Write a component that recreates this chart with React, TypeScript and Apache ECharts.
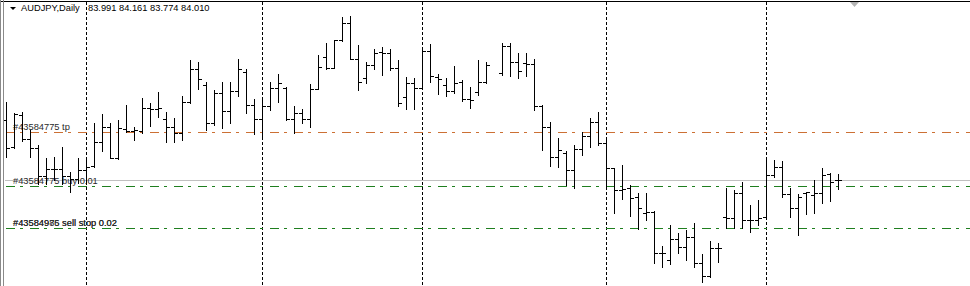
import React, { useEffect, useRef } from "react";
import * as echarts from "echarts";

const symbolName = "AUDJPY";
const timeframeName = "Daily";

// Daily OHLC bars (index 61 has no bar)
const opens: (number | null)[] = [
  85.5, 84.83, 85.63, 85.03, 84.8, 84.1, 84.28, 84.27, 84.1, 84.02,
  84.25, 84.35, 84.96, 85.33, 84.55, 85.27, 85.23, 85.23, 85.79, 85.77,
  85.52, 85.32, 85.17, 85.96, 86.77, 86.38, 85.42, 86.17, 85.73, 86.23,
  86.7, 85.87, 85.52, 85.85, 86.31, 86.31, 85.52, 85.67, 85.52, 86.27,
  87.07, 86.8, 87.49, 87.93, 87.03, 86.56, 86.88, 87.19, 87.18, 86.79,
  86.07, 86.43, 86.29, 87.23, 86.58, 86.38, 86.23, 86.46, 86.02, 86.21,
  86.46, null, 86.68, 87.36, 86.96, 86.92, 86.9, 85.85, 85.33, 84.58,
  84.68, 84.25, 84.77, 85.11, 85.46, 84.93, 84.29, 83.75, 83.79, 83.57,
  83.18, 83.19, 82.18, 82.0, 82.53, 82.33, 82.58, 81.93, 81.6, 82.29,
  83.07, 83.06, 83.68, 83.0, 83.0, 83.07, 84.13, 84.33, 83.65, 83.29,
  83.68, 83.63, 83.67, 84.15, 83.991,
];
const highs: (number | null)[] = [
  85.96, 85.68, 85.71, 85.25, 84.88, 84.55, 84.58, 84.83, 84.21, 84.54,
  84.58, 85.43, 85.65, 85.42, 85.5, 85.88, 85.33, 86.04, 85.93, 86.21,
  85.71, 85.54, 86.1, 87.0, 86.96, 86.46, 86.25, 86.46, 86.46, 87.02,
  86.77, 86.02, 86.07, 86.46, 86.65, 86.32, 85.85, 85.77, 86.4, 87.13,
  87.42, 87.5, 88.08, 88.1, 87.38, 86.96, 87.27, 87.32, 87.27, 87.0,
  86.57, 86.54, 87.25, 87.4, 86.65, 86.54, 86.85, 86.5, 86.33, 87.0,
  86.96, null, 87.42, 87.42, 87.17, 87.18, 87.02, 85.88, 85.46, 85.04,
  84.73, 84.88, 85.21, 85.54, 85.71, 85.0, 84.3, 84.38, 83.88, 83.67,
  83.68, 83.23, 82.35, 82.88, 82.67, 82.75, 82.92, 82.15, 82.48, 82.43,
  83.79, 83.75, 83.96, 83.38, 83.5, 84.5, 84.5, 84.48, 83.79, 83.65,
  83.71, 84.0, 84.29, 84.18, 84.161,
];
const lows: (number | null)[] = [
  84.58, 84.8, 84.98, 84.58, 83.9, 83.9, 84.0, 83.9, 83.71, 83.92,
  83.9, 84.33, 84.73, 84.54, 84.53, 85.21, 85.0, 85.17, 85.35, 85.58,
  84.96, 84.96, 85.0, 85.92, 86.27, 85.25, 85.38, 85.29, 85.43, 86.1,
  85.67, 85.15, 85.04, 85.75, 85.96, 85.5, 85.18, 85.42, 85.32, 86.27,
  86.77, 86.79, 87.48, 87.02, 86.25, 86.42, 86.77, 86.63, 86.75, 85.85,
  85.78, 85.78, 86.27, 86.46, 86.15, 86.1, 86.17, 85.98, 85.79, 86.13,
  86.42, null, 86.63, 86.6, 86.54, 86.6, 85.75, 84.75, 84.35, 84.32,
  83.88, 83.79, 84.63, 84.83, 84.88, 83.83, 83.18, 83.53, 83.1, 82.77,
  83.0, 81.93, 81.83, 81.9, 82.18, 82.0, 81.83, 81.46, 81.57, 81.96,
  82.79, 82.79, 82.79, 82.71, 82.88, 83.05, 84.07, 83.57, 83.08, 82.63,
  83.15, 83.17, 83.42, 83.48, 83.774,
];
const closes: (number | null)[] = [
  84.8, 85.65, 85.03, 84.8, 84.1, 84.28, 84.27, 84.1, 84.02, 84.25,
  84.33, 84.96, 85.33, 84.55, 85.3, 85.23, 85.25, 85.79, 85.77, 85.79,
  85.32, 85.17, 85.96, 86.77, 86.52, 85.43, 86.17, 85.73, 86.23, 86.77,
  85.87, 85.52, 85.85, 86.31, 86.42, 85.52, 85.67, 85.52, 86.27, 86.82,
  86.8, 87.49, 87.93, 87.03, 86.46, 86.88, 87.17, 87.18, 86.79, 85.92,
  86.43, 86.29, 87.23, 86.6, 86.52, 86.23, 86.43, 86.02, 86.01, 86.46,
  86.88, null, 87.36, 86.96, 86.73, 86.9, 85.85, 85.33, 84.58, 84.75,
  84.25, 84.77, 85.11, 85.46, 84.93, 84.29, 83.75, 83.77, 83.54, 83.29,
  83.19, 82.18, 82.17, 82.53, 82.33, 82.58, 81.93, 81.6, 82.29, 82.3,
  83.06, 83.68, 83.0, 83.01, 83.05, 84.13, 84.33, 83.65, 83.29, 83.58,
  83.69, 83.68, 84.13, 83.96, 84.01,
];

// first bar of each new month (period separators)
const monthStartBars = [10, 32, 52, 75, 95];

// trade / order levels
const orderLabels = [
  "#43584775 tp",
  "#43584775 buy 0.01",
  "#43584976 sell stop 0.02",
  "#43584985 sell stop 0.02",
];
const orderPrices = [85.21, 83.86, 82.79, 82.79];
const orderKinds = ["tp", "buy", "sellstop", "sellstop"];

const priceMin = 81.35;
const priceMax = 88.5;

const FONT = '9.3px "Liberation Sans", Arial, sans-serif';
const kindColor: Record<string, string> = {
  tp: "#cc7034",
  buy: "#1f7f1f",
  sellstop: "#1f7f1f",
};

export default function App() {
  const ref = useRef<HTMLDivElement>(null);

  useEffect(() => {
    if (!ref.current) return;
    const chart = echarts.init(ref.current, undefined, { renderer: "svg" });
    const last = closes.length - 1;

    const bars: number[][] = [];
    opens.forEach((o, i) => {
      if (o == null) return;
      bars.push([i, o, highs[i] as number, lows[i] as number, closes[i] as number]);
    });

    const lastValues = [opens[last], highs[last], lows[last], closes[last]]
      .map((v) => (v as number).toFixed(3))
      .join(" ");

    const lineStyle = { stroke: "#000", lineWidth: 1 };

    const option: any = {
      animation: false,
      backgroundColor: "#ffffff",
      grid: { left: 5, right: 0, top: 0, bottom: 0 },
      xAxis: { type: "value", min: -0.125, max: 120.5, show: false },
      yAxis: { type: "value", min: priceMin, max: priceMax, show: false },
      series: [
        {
          type: "custom",
          name: "separators",
          z: 1,
          silent: true,
          data: monthStartBars.map((k) => [k, closes[k] as number]),
          renderItem: (params: any, api: any) => {
            const cs = params.coordSys;
            const p = api.coord([api.value(0), api.value(1)]);
            const x = Math.round(p[0]) + 0.5;
            return {
              type: "line",
              shape: { x1: x, y1: cs.y + 2, x2: x, y2: cs.y + cs.height },
              style: { stroke: "#000", lineWidth: 1, lineDash: [3, 2] },
            };
          },
        },
        {
          type: "custom",
          name: "bid",
          z: 1,
          silent: true,
          data: [[last, closes[last] as number]],
          renderItem: (params: any, api: any) => {
            const cs = params.coordSys;
            const p = api.coord([api.value(0), api.value(1)]);
            const y = Math.round(p[1]) + 0.5;
            return {
              type: "line",
              shape: { x1: cs.x, y1: y, x2: cs.x + cs.width, y2: y },
              style: { stroke: "#c0c0c0", lineWidth: 1 },
            };
          },
        },
        {
          type: "custom",
          name: "orders",
          z: 2,
          silent: true,
          data: orderPrices.map((p, i) => [0, p, i]),
          renderItem: (params: any, api: any) => {
            const cs = params.coordSys;
            const idx = api.value(2);
            const p = api.coord([0, api.value(1)]);
            const y = Math.round(p[1]) + 0.5;
            const color = kindColor[orderKinds[idx]];
            return {
              type: "group",
              children: [
                {
                  type: "line",
                  shape: { x1: cs.x + 1, y1: y, x2: cs.x + cs.width, y2: y },
                  style: { stroke: color, lineWidth: 1, lineDash: [9, 5, 3, 7] },
                },
                {
                  type: "text",
                  style: {
                    text: orderLabels[idx],
                    x: cs.x + 8,
                    y: y - 1,
                    fill: "#2a2a2a",
                    font: FONT,
                    align: "left",
                    verticalAlign: "bottom",
                  },
                },
              ],
            };
          },
        },
        {
          type: "custom",
          name: symbolName,
          z: 3,
          silent: true,
          data: bars,
          encode: { x: 0, y: [1, 2, 3, 4] },
          renderItem: (params: any, api: any) => {
            const i = api.value(0);
            const o = api.coord([i, api.value(1)]);
            const h = api.coord([i, api.value(2)]);
            const l = api.coord([i, api.value(3)]);
            const c = api.coord([i, api.value(4)]);
            const x = Math.round(o[0]) + 0.5;
            const yo = Math.round(o[1]) + 0.5;
            const yc = Math.round(c[1]) + 0.5;
            return {
              type: "group",
              children: [
                {
                  type: "line",
                  shape: { x1: x, y1: Math.round(h[1]), x2: x, y2: Math.round(l[1]) + 1 },
                  style: lineStyle,
                },
                { type: "line", shape: { x1: x - 3.5, y1: yo, x2: x, y2: yo }, style: lineStyle },
                { type: "line", shape: { x1: x, y1: yc, x2: x + 3.5, y2: yc }, style: lineStyle },
              ],
            };
          },
        },
      ],
      graphic: [
        { type: "line", silent: true, z: 10, shape: { x1: 0, y1: 1.5, x2: 970, y2: 1.5 }, style: { stroke: "#000", lineWidth: 1 } },
        { type: "line", silent: true, z: 10, shape: { x1: 0.5, y1: 0, x2: 0.5, y2: 286 }, style: { stroke: "#8a8a8a", lineWidth: 1 } },
        { type: "line", silent: true, z: 10, shape: { x1: 3.5, y1: 0, x2: 3.5, y2: 286 }, style: { stroke: "#8a8a8a", lineWidth: 1 } },
        { type: "polygon", silent: true, z: 10, shape: { points: [[10, 7], [16, 7], [13, 10]] }, style: { fill: "#000" } },
        { type: "polygon", silent: true, z: 10, shape: { points: [[850, 2], [859, 2], [854.5, 7]] }, style: { fill: "#b4b4b4" } },
        {
          type: "text",
          silent: true,
          z: 10,
          x: 21,
          y: 3,
          style: { text: `${symbolName},${timeframeName}`, font: FONT, fill: "#000", verticalAlign: "top" },
        },
        {
          type: "text",
          silent: true,
          z: 10,
          x: 88,
          y: 3,
          style: { text: lastValues, font: FONT, fill: "#000", verticalAlign: "top" },
        },
      ],
    };

    chart.setOption(option);
    return () => chart.dispose();
  }, []);

  return (
    <div
      ref={ref}
      style={{ position: "absolute", left: 0, top: 0, width: 970, height: 286, background: "#fff" }}
    />
  );
}
